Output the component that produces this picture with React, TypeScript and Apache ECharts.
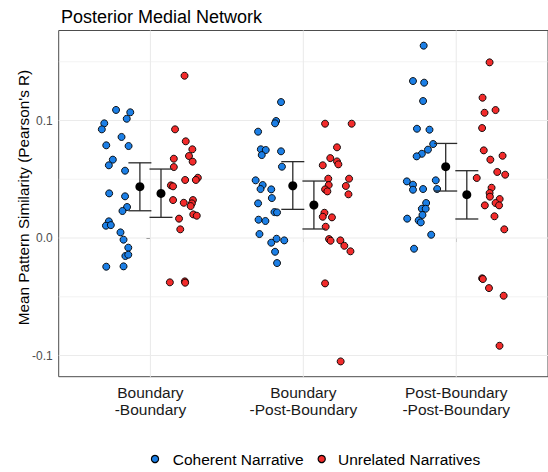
import React, { useEffect, useRef } from "react";
import * as echarts from "echarts";

const categories = ["Boundary\n-Boundary", "Boundary\n-Post-Boundary", "Post-Boundary\n-Post-Boundary"];
const seriesNames = ["Coherent Narrative", "Unrelated Narratives"];
const seriesColors = ["#1C7FE6", "#F22B2B"];

// Coherent narrative: per-subject values and horizontal jitter (category units)
const coherentValues1 = [0.109, 0.107, 0.1015, 0.0976, 0.0925, 0.086, 0.0789, 0.0783, 0.0667, 0.0619, 0.0573, 0.038, 0.0355, 0.0264, 0.023, 0.0142, 0.0105, 0.011, 0.0048, -0.0014, -0.0082, -0.0153, -0.0142, -0.0244, -0.0241];
const coherentJitter1 = [-0.225, -0.132, -0.155, -0.302, -0.318, -0.189, -0.289, -0.143, -0.246, -0.272, -0.166, -0.27, -0.166, -0.153, -0.183, -0.272, -0.291, -0.259, -0.196, -0.176, -0.145, -0.164, -0.145, -0.289, -0.176];
const coherentValues2 = [0.1157, 0.0996, 0.0976, 0.0905, 0.0755, 0.0749, 0.0706, 0.0738, 0.0607, 0.0491, 0.0451, 0.0417, 0.0414, 0.034, 0.0295, 0.0221, 0.0218, 0.0156, 0.0145, 0.0034, -0.0006, -0.002, -0.004, -0.0117, -0.0213];
const coherentJitter2 = [-0.146, -0.178, -0.185, -0.296, -0.278, -0.246, -0.272, -0.146, -0.14, -0.312, -0.266, -0.28, -0.21, -0.206, -0.296, -0.189, -0.172, -0.293, -0.248, -0.287, -0.175, -0.125, -0.21, -0.185, -0.172];
const coherentValues3 = [0.1637, 0.1336, 0.1322, 0.1166, 0.093, 0.0922, 0.08, 0.0752, 0.0717, 0.0695, 0.0482, 0.0491, 0.0454, 0.0411, 0.0417, 0.0417, 0.0298, 0.0249, 0.0249, 0.0196, 0.0165, 0.015, 0.0133, 0.0028, -0.0091];
const coherentJitter3 = [-0.213, -0.283, -0.21, -0.217, -0.257, -0.175, -0.151, -0.185, -0.225, -0.259, -0.323, -0.134, -0.283, -0.283, -0.217, -0.125, -0.197, -0.225, -0.2, -0.221, -0.321, -0.246, -0.232, -0.164, -0.276];

// Unrelated narratives
const unrelatedValues1 = [0.1381, 0.0925, 0.0823, 0.0755, 0.0675, 0.0698, 0.065, 0.0604, 0.0494, 0.0513, 0.0494, 0.0448, 0.044, 0.0323, 0.03, 0.0323, 0.0295, 0.0272, 0.0201, 0.019, 0.0165, 0.0074, -0.0377, -0.0369, -0.038];
const unrelatedJitter1 = [0.223, 0.161, 0.231, 0.274, 0.153, 0.252, 0.276, 0.153, 0.227, 0.31, 0.297, 0.134, 0.148, 0.148, 0.218, 0.278, 0.271, 0.263, 0.28, 0.303, 0.187, 0.195, 0.127, 0.225, 0.227];
const unrelatedValues2 = [0.0973, 0.0973, 0.0772, 0.068, 0.0652, 0.0627, 0.0619, 0.0505, 0.0505, 0.0451, 0.0443, 0.0414, 0.0397, 0.0372, 0.0215, 0.0181, 0.0176, 0.0096, -0.0009, -0.0023, -0.002, -0.0066, -0.0113, -0.0386, -0.105];
const unrelatedJitter2 = [0.142, 0.316, 0.22, 0.176, 0.22, 0.229, 0.127, 0.163, 0.299, 0.166, 0.278, 0.142, 0.157, 0.295, 0.138, 0.127, 0.187, 0.146, 0.168, 0.178, 0.242, 0.268, 0.308, 0.142, 0.244];
const unrelatedValues3 = [0.1495, 0.1194, 0.1089, 0.1066, 0.0936, 0.0746, 0.07, 0.0667, 0.0562, 0.0539, 0.0511, 0.0428, 0.0383, 0.0352, 0.0332, 0.0298, 0.0278, 0.0278, 0.0185, 0.0074, -0.0343, -0.0349, -0.0426, -0.0491, -0.0917];
const unrelatedJitter3 = [0.218, 0.172, 0.257, 0.185, 0.169, 0.18, 0.303, 0.223, 0.268, 0.32, 0.134, 0.231, 0.218, 0.22, 0.284, 0.257, 0.28, 0.187, 0.25, 0.314, 0.169, 0.174, 0.214, 0.31, 0.283];

// Group means and error bar limits
const coherentMean = [0.0437, 0.0445, 0.0607];
const coherentLower = [0.0232, 0.0244, 0.04];
const coherentUpper = [0.064, 0.065, 0.0805];
const unrelatedMean = [0.038, 0.0281, 0.0369];
const unrelatedLower = [0.0176, 0.0077, 0.0162];
const unrelatedUpper = [0.0587, 0.0485, 0.0573];

const yTickValues = [-0.1, 0, 0.1];
const yMinorValues = [-0.05, 0.05, 0.15];
const xTickValues = [0, 1, 2];

const FONT = "'Liberation Sans', Arial, Helvetica, sans-serif";

export default function App() {
  const ref = useRef<HTMLDivElement>(null);

  useEffect(() => {
    const chart = echarts.init(ref.current!, null, { renderer: "svg" });

    const coherentGroups = [coherentValues1, coherentValues2, coherentValues3];
    const coherentJit = [coherentJitter1, coherentJitter2, coherentJitter3];
    const unrelatedGroups = [unrelatedValues1, unrelatedValues2, unrelatedValues3];
    const unrelatedJit = [unrelatedJitter1, unrelatedJitter2, unrelatedJitter3];

    const coherentPts = coherentGroups.flatMap((vals, g) => vals.map((v, i) => [g + coherentJit[g][i], v]));
    const unrelatedPts = unrelatedGroups.flatMap((vals, g) => vals.map((v, i) => [g + unrelatedJit[g][i], v]));

    const dodge = 0.069;
    const coherentBars = coherentMean.map((m, g) => [g - dodge, coherentLower[g], coherentUpper[g], m]);
    const unrelatedBars = unrelatedMean.map((m, g) => [g + dodge, unrelatedLower[g], unrelatedUpper[g], m]);

    const hLine = (lw: number) => (params: any, api: any) => {
      const cs = params.coordSys;
      const y = api.coord([0, api.value(0)])[1];
      return {
        type: "line",
        shape: { x1: cs.x, y1: y, x2: cs.x + cs.width, y2: y },
        style: { stroke: "#EBEBEB", lineWidth: lw },
        silent: true,
      };
    };
    const vLine = (params: any, api: any) => {
      const cs = params.coordSys;
      const x = api.coord([api.value(0), 0])[0];
      return {
        type: "line",
        shape: { x1: x, y1: cs.y, x2: x, y2: cs.y + cs.height },
        style: { stroke: "#EBEBEB", lineWidth: 1.1 },
        silent: true,
      };
    };
    const errBar = (params: any, api: any) => {
      const x = api.value(0);
      const lo = api.coord([x, api.value(1)]);
      const hi = api.coord([x, api.value(2)]);
      const half = 11.5;
      const st = { stroke: "#2B2B2B", lineWidth: 1.3 };
      return {
        type: "group",
        children: [
          { type: "line", shape: { x1: lo[0], y1: lo[1], x2: hi[0], y2: hi[1] }, style: st },
          { type: "line", shape: { x1: hi[0] - half, y1: hi[1], x2: hi[0] + half, y2: hi[1] }, style: st },
          { type: "line", shape: { x1: lo[0] - half, y1: lo[1], x2: lo[0] + half, y2: lo[1] }, style: st },
        ],
      };
    };

    const option: any = {
      animation: false,
      backgroundColor: "#ffffff",
      textStyle: { fontFamily: FONT },
      title: {
        text: "Posterior Medial Network",
        left: 56,
        top: 3,
        textStyle: { fontFamily: FONT, fontSize: 18, fontWeight: "normal", color: "#000000" },
      },
      grid: {
        left: 58.7,
        top: 30.5,
        right: -13,
        bottom: 95.3,
        show: true,
        borderColor: "#4D4D4D",
        borderWidth: 1,
        backgroundColor: "transparent",
      },
      xAxis: {
        type: "value",
        min: -0.6,
        max: 2.6,
        axisLine: { show: false },
        splitLine: { show: false },
        axisTick: { show: true, customValues: xTickValues, length: 4, lineStyle: { color: "#4D4D4D" } },
        axisLabel: {
          customValues: xTickValues,
          formatter: (v: number) => categories[Math.round(v)] ?? "",
          fontFamily: FONT,
          fontSize: 15.5,
          lineHeight: 17,
          color: "#1A1A1A",
          margin: 7,
          align: "center",
        },
      },
      yAxis: {
        type: "value",
        min: -0.118,
        max: 0.1766,
        axisLine: { show: false },
        splitLine: { show: false },
        axisTick: { show: true, customValues: yTickValues, length: 4, lineStyle: { color: "#4D4D4D" } },
        axisLabel: {
          customValues: yTickValues,
          formatter: (v: number) => v.toFixed(1),
          fontFamily: FONT,
          fontSize: 12,
          color: "#4D4D4D",
          margin: 6,
        },
      },
      graphic: [
        {
          type: "text",
          x: 23,
          y: 197.5,
          rotation: Math.PI / 2,
          style: {
            text: "Mean Pattern Similarity (Pearson's R)",
            fontFamily: FONT,
            fontSize: 15.3,
            fill: "#000000",
            align: "center",
            verticalAlign: "middle",
          },
        },
        {
          type: "circle",
          shape: { cx: 155, cy: 459, r: 3.6 },
          style: { fill: seriesColors[0], stroke: "#000000", lineWidth: 1.2 },
        },
        {
          type: "text",
          x: 172.7,
          y: 459,
          style: { text: seriesNames[0], fontFamily: FONT, fontSize: 15.5, fill: "#000000", verticalAlign: "middle" },
        },
        {
          type: "circle",
          shape: { cx: 321.7, cy: 459, r: 3.6 },
          style: { fill: seriesColors[1], stroke: "#000000", lineWidth: 1.2 },
        },
        {
          type: "text",
          x: 338,
          y: 459,
          style: { text: seriesNames[1], fontFamily: FONT, fontSize: 15.5, fill: "#000000", verticalAlign: "middle" },
        },
      ],
      series: [
        { type: "custom", name: "gridMinor", data: yMinorValues.map((v) => [v]), renderItem: hLine(0.6), z: 1, silent: true, encode: { y: 0 } },
        { type: "custom", name: "gridMajor", data: yTickValues.map((v) => [v]), renderItem: hLine(1.1), z: 1, silent: true, encode: { y: 0 } },
        { type: "custom", name: "gridV", data: xTickValues.map((v) => [v]), renderItem: vLine, z: 1, silent: true, encode: { x: 0 } },
        {
          type: "scatter",
          name: seriesNames[0],
          data: coherentPts,
          symbol: "circle",
          symbolSize: 7,
          itemStyle: { color: seriesColors[0], borderColor: "#000000", borderWidth: 0.9, opacity: 1 },
          z: 3,
        },
        {
          type: "scatter",
          name: seriesNames[1],
          data: unrelatedPts,
          symbol: "circle",
          symbolSize: 7,
          itemStyle: { color: seriesColors[1], borderColor: "#000000", borderWidth: 0.9, opacity: 1 },
          z: 3,
        },
        { type: "custom", name: "errCoherent", data: coherentBars, renderItem: errBar, encode: { x: 0, y: [1, 2] }, z: 4 },
        { type: "custom", name: "errUnrelated", data: unrelatedBars, renderItem: errBar, encode: { x: 0, y: [1, 2] }, z: 4 },
        {
          type: "scatter",
          name: "meanCoherent",
          data: coherentBars.map((d) => [d[0], d[3]]),
          symbolSize: 9,
          itemStyle: { color: "#000000", opacity: 1 },
          z: 5,
        },
        {
          type: "scatter",
          name: "meanUnrelated",
          data: unrelatedBars.map((d) => [d[0], d[3]]),
          symbolSize: 9,
          itemStyle: { color: "#000000", opacity: 1 },
          z: 5,
        },
      ],
    };

    chart.setOption(option);
    return () => chart.dispose();
  }, []);

  return <div ref={ref} style={{ position: "fixed", left: 0, top: 0, width: 548, height: 472 }} />;
}
